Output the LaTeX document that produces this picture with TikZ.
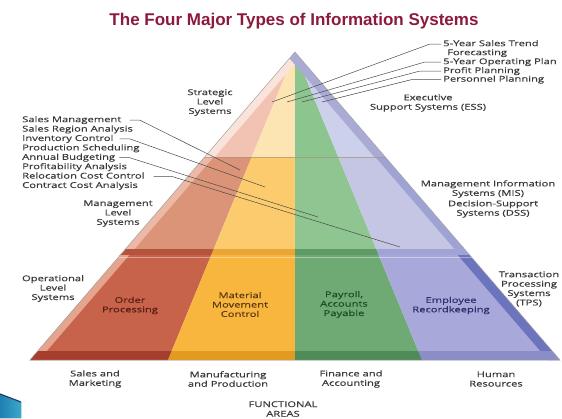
\documentclass[tikz,border=0pt]{standalone}
\usepackage{fontspec}
\setmainfont{Open Sans}
\newfontfamily\labfont[FakeStretch=1.4,FakeBold=0.45]{Open Sans}
\newfontfamily\titlefont{Liberation Sans}
\definecolor{titlered}{HTML}{8C1A3C}
\definecolor{labgray}{HTML}{3A3A3A}
\definecolor{leadgray}{HTML}{4A4A4A}
% top band
\definecolor{tR}{HTML}{F2C3B3}\definecolor{tY}{HTML}{FCE5B2}\definecolor{tG}{HTML}{8DC58F}\definecolor{tP}{HTML}{CDD0EA}
\definecolor{tL}{HTML}{F9E3DA}\definecolor{tRt}{HTML}{A9ABD5}
% middle band
\definecolor{mR}{HTML}{DB9478}\definecolor{mY}{HTML}{FCCB6D}\definecolor{mG}{HTML}{8FC591}\definecolor{mP}{HTML}{C5C6E4}
\definecolor{mL}{HTML}{EBB9A6}\definecolor{mRt}{HTML}{9FA3D4}
% bottom band
\definecolor{bR}{HTML}{C6634A}\definecolor{bY}{HTML}{F8B63F}\definecolor{bG}{HTML}{6FAA74}\definecolor{bP}{HTML}{A8A9DA}
\definecolor{bL}{HTML}{E4A48E}\definecolor{bRt}{HTML}{6C74BE}
% dark strips
\definecolor{dR}{HTML}{A53E2C}\definecolor{dY}{HTML}{E29A20}\definecolor{dG}{HTML}{4E8B58}\definecolor{dP}{HTML}{8B8DC7}
\definecolor{sR}{HTML}{B5533C}\definecolor{sY}{HTML}{E9A636}\definecolor{sG}{HTML}{5E9966}\definecolor{sP}{HTML}{A0A3D3}
\definecolor{txR}{HTML}{5A1E14}\definecolor{txY}{HTML}{5A3A10}\definecolor{txG}{HTML}{1F4A2A}\definecolor{txP}{HTML}{2A2E6A}
\definecolor{chevA}{HTML}{1F7FB0}\definecolor{chevB}{HTML}{38AACB}\definecolor{chevD}{HTML}{1F3F70}
\begin{document}
\begin{tikzpicture}[x=1pt,y=-1pt,
  lab/.style={font=\labfont\fontsize{8}{9.4}\selectfont, text=labgray, inner sep=0pt, align=center},
  item/.style={font=\labfont\fontsize{8}{9.4}\selectfont, text=labgray, inner sep=0pt, anchor=west, text height=6pt, text depth=1.7pt},
  leader/.style={draw=leadgray, line width=0.5pt}]
\path[use as bounding box] (0,0) rectangle (562,418);
\clip (0,0) rectangle (562,418);
\fill[white] (0,0) rectangle (562,418);

\coordinate (A) at (295,52);
\coordinate (BL) at (30,360);
\coordinate (BR) at (560,360);
\coordinate (RY) at (168,360);
\coordinate (YG) at (295,360);
\coordinate (GP) at (422,360);

% top band
\begin{scope}
\clip (A) -- (BL) -- (BR) -- cycle;
\clip (0,40) rectangle (562,157);
\fill[tR] (A) -- (BL) -- (RY) -- cycle;
\fill[tY] (A) -- (RY) -- (YG) -- cycle;
\fill[tG] (A) -- (YG) -- (GP) -- cycle;
\fill[tP] (A) -- (GP) -- (BR) -- cycle;
\fill[tL] (A) -- (BL) -- ++(10,0) -- ([xshift=10pt]A) -- cycle;
\fill[tRt] (A) -- (BR) -- ++(-11,0) -- ([xshift=-11pt]A) -- cycle;
\end{scope}
% middle band
\begin{scope}
\clip (A) -- (BL) -- (BR) -- cycle;
\clip (0,157) rectangle (562,255);
\fill[mR] (A) -- (BL) -- (RY) -- cycle;
\fill[mY] (A) -- (RY) -- (YG) -- cycle;
\fill[mG] (A) -- (YG) -- (GP) -- cycle;
\fill[mP] (A) -- (GP) -- (BR) -- cycle;
\fill[mL] (A) -- (BL) -- ++(9,0) -- ([xshift=9pt]A) -- cycle;
\fill[mRt] (A) -- (BR) -- ++(-10,0) -- ([xshift=-10pt]A) -- cycle;
\clip (0,249) rectangle (562,255);
\fill[sR] (A) -- (BL) -- (RY) -- cycle;
\fill[sY] (A) -- (RY) -- (YG) -- cycle;
\fill[sG] (A) -- (YG) -- (GP) -- cycle;
\fill[sP] (A) -- (GP) -- (BR) -- cycle;
\end{scope}
% bottom band
\begin{scope}
\clip (A) -- (BL) -- (BR) -- cycle;
\clip (0,255) rectangle (562,361);
\fill[bR] (A) -- (BL) -- (RY) -- cycle;
\fill[bY] (A) -- (RY) -- (YG) -- cycle;
\fill[bG] (A) -- (YG) -- (GP) -- cycle;
\fill[bP] (A) -- (GP) -- (BR) -- cycle;
\fill[bL] (A) -- (BL) -- ++(9,0) -- ([xshift=9pt]A) -- cycle;
\fill[bRt] (A) -- (BR) -- ++(-12,0) -- ([xshift=-12pt]A) -- cycle;
\clip (0,351) rectangle (562,361);
\fill[dR] (A) -- (BL) -- (RY) -- cycle;
\fill[dY] (A) -- (RY) -- (YG) -- cycle;
\fill[dG] (A) -- (YG) -- (GP) -- cycle;
\fill[dP] (A) -- (GP) -- (BR) -- cycle;
\end{scope}
% separating lines
\begin{scope}
\clip (A) -- (BL) -- (BR) -- cycle;
\draw[draw=black!40!brown!60!white, line width=0.8pt, opacity=0.7] (0,157) -- (562,157);
\draw[white, opacity=0.4, line width=0.8pt] (0,257) -- (562,257);
\end{scope}
\draw[black!35, line width=0.5pt] (A) -- (BL) -- (BR) -- cycle;

% chevron decoration
\fill[left color=chevA, right color=chevB] (0,394) -- (21,402) -- (21,418) -- (0,418) -- cycle;
\draw[chevD, line width=1.2pt] (0,394) -- (21,402);

% title
\node[font=\titlefont\bfseries\fontsize{17}{20}\selectfont, text=titlered, anchor=base, inner sep=0pt] (title) at (294,25) {The Four Major Types of Information Systems};

% right top items
\node[item] (st1) at (443,44) {5-Year Sales Trend};
\node[item] (st1b) at (447,53) {Forecasting};
\node[item] (st2) at (443,62) {5-Year Operating Plan};
\node[item] (st3) at (443,71) {Profit Planning};
\node[item] (st4) at (443,79.5) {Personnel Planning};
\coordinate (e1) at (272,102);
\coordinate (e2) at (287,102);
\coordinate (e3) at (302,102);
\coordinate (e4) at (322,102);
\coordinate (k1) at (430,0);
\coordinate (k2) at (425,0);
\coordinate (k3) at (420,0);
\coordinate (k4) at (412,0);
\draw[leader] (e1) -- (st1.west -| k1) -- ([xshift=-2pt]st1.west);
\draw[leader] (e2) -- (st2.west -| k2) -- ([xshift=-2pt]st2.west);
\draw[leader] (e3) -- (st3.west -| k3) -- ([xshift=-2pt]st3.west);
\draw[leader] (e4) -- (st4.west -| k4) -- ([xshift=-2pt]st4.west);

\node[lab] (ess) at (428,103) {Executive\\Support Systems (ESS)};
\node[lab] (strat) at (210,102.5) {Strategic\\Level\\Systems};

% left items
\node[item] (l1) at (22,120) {Sales Management};
\node[item] (l2) at (22,129.4) {Sales Region Analysis};
\node[item] (l3) at (22,138.8) {Inventory Control};
\node[item] (l4) at (22,148.2) {Production Scheduling};
\node[item] (l5) at (22,157.6) {Annual Budgeting};
\node[item] (l6) at (22,167) {Profitability Analysis};
\node[item] (l7) at (22,176.4) {Relocation Cost Control};
\node[item] (l8) at (22,185.8) {Contract Cost Analysis};
\coordinate (e5) at (240,170);
\coordinate (e6) at (265,187);
\coordinate (e7) at (318,217);
\coordinate (e8) at (400,247);
\draw[leader] ([xshift=8pt]l1.east) -- ++(10,0) -- (e5);
\draw[leader] ([xshift=6pt]l3.east) -- ++(10,0) -- (e6);
\draw[leader] ([xshift=4pt]l5.east) -- ++(10,0) -- (e7);
\draw[leader] ([xshift=9pt]l7.east) -- ++(18,0) -- (e8);

\node[lab] (mgmt) at (118,213.5) {Management\\Level\\Systems};
\node[lab] (mis) at (488,189) {Management Information\\Systems (MIS)};
\node[lab] (dss) at (493,209) {Decision-Support\\Systems (DSS)};

\node[lab] (oper) at (53,288.5) {Operational\\Level\\Systems};
\node[lab, text=txR] (order) at (130,305.5) {Order\\Processing};
\node[lab, text=txY] (mat) at (240,304.5) {Material\\Movement\\Control};
\node[lab, text=txG] (pay) at (344,304.5) {Payroll,\\Accounts\\Payable};
\node[lab, text=txP] (emp) at (451,305.5) {Employee\\Recordkeeping};
\node[lab] (tps) at (529,289) {Transaction\\Processing\\Systems\\(TPS)};

% functional areas
\node[lab] (fa1) at (95,379) {Sales and\\Marketing};
\node[lab] (fa2) at (228,379) {Manufacturing\\and Production};
\node[lab] (fa3) at (351,379) {Finance and\\Accounting};
\node[lab] (fa4) at (496,379) {Human\\Resources};
\node[lab, font=\labfont\fontsize{8}{9.6}\selectfont] (fa) at (283,409) {FUNCTIONAL\\AREAS};
\end{tikzpicture}
\end{document}
